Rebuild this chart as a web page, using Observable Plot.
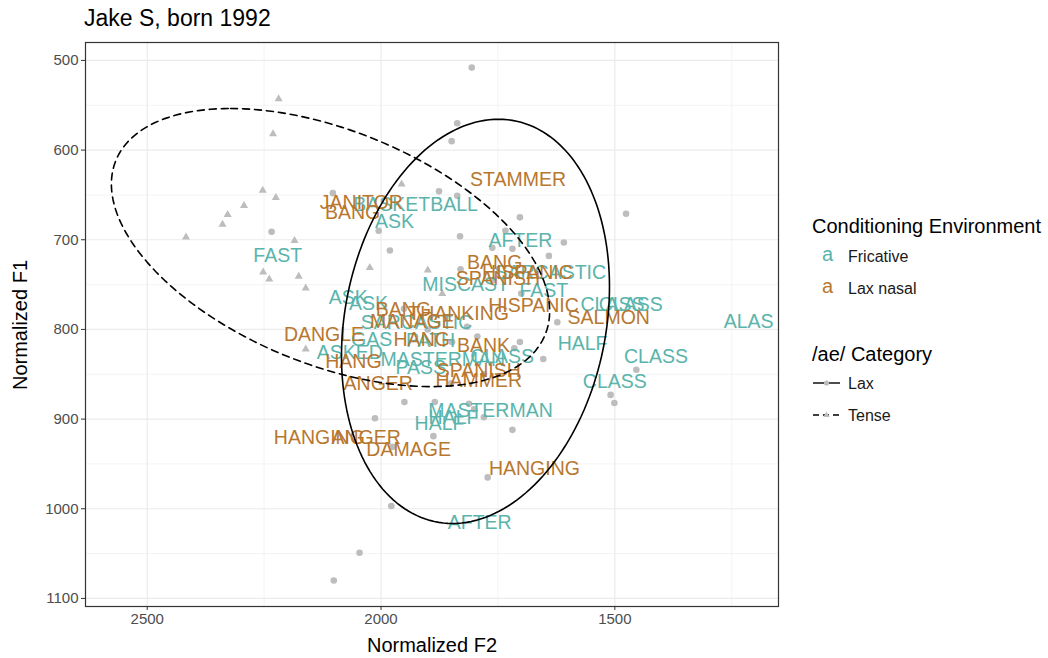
<!DOCTYPE html>
<html><head><meta charset="utf-8">
<script src="https://cdn.jsdelivr.net/npm/d3@7"></script>
<script src="https://cdn.jsdelivr.net/npm/@observablehq/plot@0.6"></script>
<style>
body{margin:0;background:#fff;font-family:"Liberation Sans",Arial,sans-serif;}
#wrap{position:relative;width:1048px;height:658px;overflow:hidden;}
.abs{position:absolute;white-space:nowrap;line-height:1;}
</style></head><body>
<div id="wrap">
  <div id="chart"></div>
  <div class="abs" style="left:84px;top:7px;font-size:23px;color:#000;">Jake S, born 1992</div>
  <div class="abs" style="left:332px;width:200px;text-align:center;top:635px;font-size:20px;color:#000;">Normalized F2</div>
  <div class="abs" style="left:-80px;width:200px;text-align:center;top:315px;font-size:20px;color:#000;transform:rotate(-90deg);">Normalized F1</div>
  <svg id="legend" width="1048" height="658" style="position:absolute;left:0;top:0;pointer-events:none" font-family="Liberation Sans"></svg>
</div>
<script>
// ---- data ----
const envNames = ["Fricative", "Lax nasal"];
const envColors = ["#5ab4ac", "#b8772f"];

const laxF2 = [1806,1837,1849,1876,1837,1703,1476,1831,1734,1609,1719,1641,1762,1830,1623,2103,2234,1981,2005,1950,2013,1888,1976,1978,2046,2101,1885,1812,1801,1780,1719,1772,1454,1509,1501,1653,1703,1715,1794,1951,1848,1816,1760,1700,1900,1780,1850];
const laxF1 = [508,570,590,646,651,675,671,696,690,703,710,718,709,733,792,648,691,712,690,881,899,919,931,997,1049,1080,881,883,889,898,912,965,845,873,882,833,814,821,808,777,814,797,745,760,800,850,860];

const tenseF2 = [2219,2231,2253,2225,2293,2328,2339,2417,2185,2252,2239,2176,2161,2024,1956,1900,2161,1869];
const tenseF1 = [543,582,645,653,662,672,683,697,701,736,744,741,754,731,638,734,822,760];

const labelWord = ["FAST","ASK","BASKETBALL","AFTER","SARCASTIC","FAST","MISCAST","ASK","ASK","SARCASTIC","GAS","PATH","ASKED","MASTERMAN","PASS","CLASS","CLASS","CLASS","ALAS","HALF","CLASS","CLASS","MASTERMAN","HALF","HALF","AFTER",
  "STAMMER","JANITOR","BANG","BANG","HISPANIC","SPANISH","HISPANIC","SALMON","BANG","MANAGE","THANKING","DANGLE","HANG","HANG","BANK","SPANISH","HAMMER","ANGER","HANGING","ANGER","DAMAGE","HANGING"];
const labelEnv = ["Fricative","Fricative","Fricative","Fricative","Fricative","Fricative","Fricative","Fricative","Fricative","Fricative","Fricative","Fricative","Fricative","Fricative","Fricative","Fricative","Fricative","Fricative","Fricative","Fricative","Fricative","Fricative","Fricative","Fricative","Fricative","Fricative",
  "Lax nasal","Lax nasal","Lax nasal","Lax nasal","Lax nasal","Lax nasal","Lax nasal","Lax nasal","Lax nasal","Lax nasal","Lax nasal","Lax nasal","Lax nasal","Lax nasal","Lax nasal","Lax nasal","Lax nasal","Lax nasal","Lax nasal","Lax nasal","Lax nasal","Lax nasal"];
const labelF2 = [2221,1971,1926,1702,1638,1652,1819,2070,2027,1924,2020,1894,2067,1868,1915,1741,1505,1466,1214,1569,1412,1500,1766,1875,1845,1789,
  1707,2042,2061,1757,1687,1750,1674,1513,1952,1933,1834,2122,1913,2059,1781,1791,1791,2006,2132,2032,1941,1672];
const labelF1 = [718,680,661,701,737,757,750,765,771,793,812,813,826,834,843,831,773,773,791,816,830,858,891,905,899,1016,
  633,659,670,726,737,743,774,787,778,791,782,806,812,836,818,846,857,861,921,921,934,955];

// ellipse parameters (centre + conjugate semi-axes, data units)
const ellCategory = ["Lax","Tense"];
const ellCenterF2 = [1798, 2108];
const ellCenterF1 = [791, 708.7];
const ellAxisAF2 = [-49.2, 213.9];
const ellAxisAF1 = [-225.4, -155.1];
const ellAxisBF2 = [-282.3, -417];
const ellAxisBF1 = [0, 0];

const xMajor = [2500, 2000, 1500];
const xMinor = [2250, 1750, 1250];
const yMajor = [500, 600, 700, 800, 900, 1000, 1100];
const yMinor = [550, 650, 750, 850, 950, 1050];

// ---- build tables ----
const lax = laxF2.map((f2, i) => ({f2, f1: laxF1[i]}));
const tense = tenseF2.map((f2, i) => ({f2, f1: tenseF1[i]}));
const labels = labelWord.map((w, i) => ({w, env: labelEnv[i], f2: labelF2[i], f1: labelF1[i]}));
function ellipse(k) {
  const pts = [];
  for (let i = 0; i <= 180; i++) {
    const t = 2 * Math.PI * i / 180;
    pts.push({
      f2: ellCenterF2[k] + ellAxisAF2[k] * Math.cos(t) + ellAxisBF2[k] * Math.sin(t),
      f1: ellCenterF1[k] + ellAxisAF1[k] * Math.cos(t) + ellAxisBF1[k] * Math.sin(t)
    });
  }
  return pts;
}
const ellLax = ellipse(0), ellTense = ellipse(1);

const gray = "#bdbdbd";
const chart = Plot.plot({
  width: 1048, height: 658,
  marginLeft: 85, marginRight: 270, marginTop: 42, marginBottom: 52,
  style: {fontFamily: "Liberation Sans", background: "#fff"},
  x: {domain: [2632, 1150], label: null},
  y: {domain: [480, 1109], reverse: true, label: null},
  color: {domain: envNames, range: envColors},
  marks: [
    Plot.ruleX(xMinor, {stroke: "#ebebeb", strokeWidth: 0.6}),
    Plot.ruleY(yMinor, {stroke: "#ebebeb", strokeWidth: 0.6}),
    Plot.ruleX(xMajor, {stroke: "#ebebeb", strokeWidth: 1.2}),
    Plot.ruleY(yMajor, {stroke: "#ebebeb", strokeWidth: 1.2}),
    Plot.dot(lax, {x: "f2", y: "f1", r: 3.3, fill: gray, stroke: "none"}),
    Plot.dot(tense, {x: "f2", y: "f1", r: 3, symbol: "triangle", fill: gray, stroke: "none"}),
    Plot.text(labels, {x: "f2", y: "f1", text: "w", fill: "env", fontSize: 19.5, textAnchor: "middle", lineAnchor: "middle", clip: true}),
    Plot.line(ellLax, {x: "f2", y: "f1", stroke: "#000", strokeWidth: 1.6}),
    Plot.line(ellTense, {x: "f2", y: "f1", stroke: "#000", strokeWidth: 1.6, strokeDasharray: "7,5"}),
    Plot.frame({stroke: "#333", strokeWidth: 1.2}),
    Plot.axisX({ticks: xMajor, tickFormat: d => String(d), tickSize: 4, tickPadding: 3, fontSize: 15, stroke: "#333", fill: "#4d4d4d", label: null}),
    Plot.axisY({ticks: yMajor, tickFormat: d => String(d), tickSize: 4, tickPadding: 3, fontSize: 15, stroke: "#333", fill: "#4d4d4d", label: null})
  ]
});
document.getElementById("chart").appendChild(chart);

// ---- legend ----
const lg = document.getElementById("legend");
lg.innerHTML = `
<text x="812" y="233" font-size="20" fill="#000">Conditioning Environment</text>
<text x="827.5" y="261" font-size="20" text-anchor="middle" fill="${envColors[0]}">a</text>
<text x="848" y="262" font-size="16" fill="#1a1a1a">${envNames[0]}</text>
<text x="827.5" y="293" font-size="20" text-anchor="middle" fill="${envColors[1]}">a</text>
<text x="848" y="294" font-size="16" fill="#1a1a1a">${envNames[1]}</text>
<text x="812" y="361" font-size="20" fill="#000">/ae/ Category</text>
<line x1="813" x2="840" y1="383" y2="383" stroke="#000" stroke-width="1.4"/>
<circle cx="826.5" cy="383" r="2.6" fill="${gray}"/>
<text x="848" y="389" font-size="16" fill="#1a1a1a">Lax</text>
<line x1="813" x2="840" y1="415" y2="415" stroke="#000" stroke-width="1.4" stroke-dasharray="6,4"/>
<path d="M826.5,411.5 L829.6,417 L823.4,417 Z" fill="${gray}"/>
<text x="848" y="421" font-size="16" fill="#1a1a1a">Tense</text>`;
</script>
</body></html>
